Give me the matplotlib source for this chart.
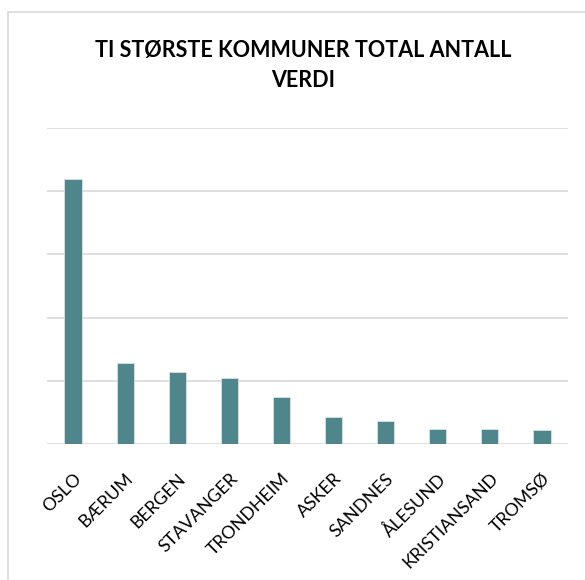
import matplotlib
matplotlib.use("Agg")
import matplotlib.pyplot as plt
from matplotlib.patches import Rectangle

kommuner = ["OSLO", "BÆRUM", "BERGEN", "STAVANGER", "TRONDHEIM", "ASKER",
            "SANDNES", "ÅLESUND", "KRISTIANSAND", "TROMSØ"]
verdi = [4.19, 1.28, 1.14, 1.04, 0.74, 0.43, 0.36, 0.24, 0.23, 0.22]

plt.rcParams['font.family'] = ['Lato', 'DejaVu Sans']

W, H = 585, 580
fig = plt.figure(figsize=(W / 100, H / 100), dpi=100)

# kantlinje rundt diagrammet (høyre/nederst utenfor bildet)
fig.patches.append(Rectangle((8 / W, -0.1), 1.2, 1 - 12 / H + 0.1,
                             transform=fig.transFigure, fill=False,
                             edgecolor="#d9d9d9", linewidth=1.2))

ax = fig.add_axes([47 / W, 1 - 444 / H, (568 - 47) / W, (444 - 128) / H])
x = range(len(kommuner))
ax.bar(x, verdi, width=0.33, color="#4e868c", edgecolor="#d6e4e6",
       linewidth=0.6, zorder=3)

ax.set_xlim(-0.5, len(kommuner) - 0.5)
ax.set_ylim(0, 5)
ax.set_yticks([0, 1, 2, 3, 4, 5])
ax.set_yticklabels([])
ax.grid(axis="y", color="#d9d9d9", linewidth=1.2, zorder=0)
ax.tick_params(axis="both", length=0)
for s in ax.spines.values():
    s.set_visible(False)

ax.set_xticks(list(x))
ax.set_xticklabels(kommuner, rotation=45, ha="right", va="top",
                   rotation_mode="anchor", fontsize=12.8)
ax.tick_params(axis="x", pad=19)

fig.text(303 / W, 1 - 57 / H, "TI STØRSTE KOMMUNER TOTAL ANTALL",
         ha="center", va="baseline", fontsize=15.5, fontweight="bold")
fig.text(303 / W, 1 - 87 / H, "VERDI",
         ha="center", va="baseline", fontsize=15.5, fontweight="bold")

fig.savefig("out.png", dpi=100)
